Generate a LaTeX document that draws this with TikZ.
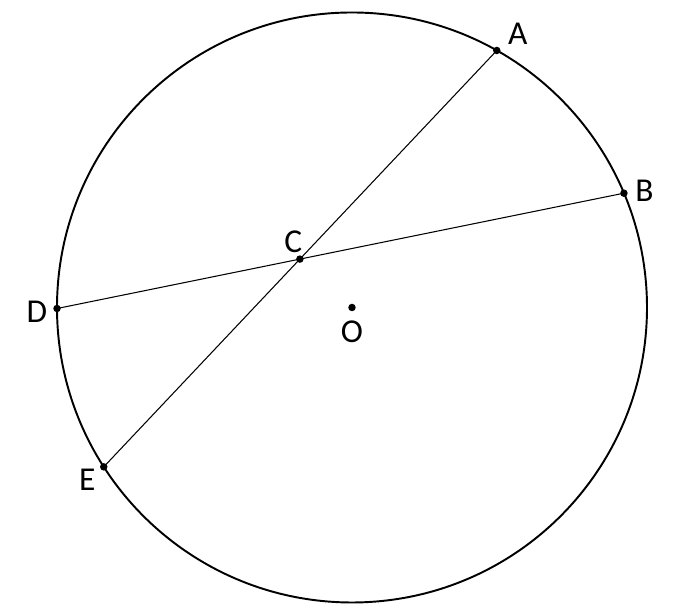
\documentclass[tikz,border=0pt]{standalone}
\usepackage{fontspec}
\setmainfont{Carlito}
\usetikzlibrary{calc}

\begin{document}
\begin{tikzpicture}[
    rim/.style={line width=1.1pt},
    chord/.style={line width=0.6pt},
    pt/.style={circle, fill=black, inner sep=0pt, minimum size=0.15cm},
    lbl/.style={font=\fontsize{19}{22}\selectfont, inner sep=0pt}
]
    \useasboundingbox (-7.04,-5.93) rectangle (6.66,6.15);

    % circle and points on it
    \coordinate (O) at (0,0);
    \draw[rim] (O) circle (5.9);
    \coordinate (A) at (60.6:5.9);
    \coordinate (B) at (22.8:5.9);
    \coordinate (D) at (180.2:5.9);
    \coordinate (E) at (212.7:5.9);
    \coordinate (C) at (intersection of A--E and D--B);

    % chords
    \draw[chord] (A) -- (E);
    \draw[chord] (D) -- (B);

    % dots
    \foreach \p in {A,B,C,D,E,O}
        \node[pt] (\p dot) at (\p) {};

    % labels
    \node[lbl] (Alabel) at ($(A)+(0.42,0.33)$) {A};
    \node[lbl] (Blabel) at ($(B)+(0.41,0.05)$) {B};
    \node[lbl] (Clabel) at ($(C)+(-0.13,0.35)$) {C};
    \node[lbl] (Dlabel) at ($(D)+(-0.40,-0.07)$) {D};
    \node[lbl] (Elabel) at ($(E)+(-0.33,-0.25)$) {E};
    \node[lbl] (Olabel) at ($(O)+(0,-0.48)$) {O};
\end{tikzpicture}
\end{document}
